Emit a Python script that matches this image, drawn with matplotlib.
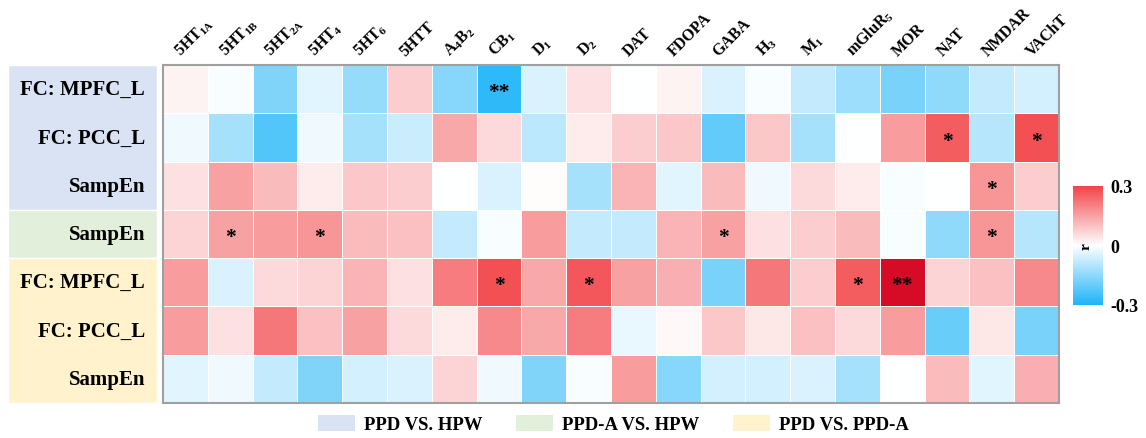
#!/usr/bin/env python3
"""Heatmap of receptor-map correlations (r) for FC / SampEn contrasts."""

import numpy as np
import matplotlib
matplotlib.use("Agg")
import matplotlib.pyplot as plt
from matplotlib.colors import LinearSegmentedColormap, Normalize
from matplotlib.patches import Patch

plt.rcParams["font.family"] = ["Liberation Serif", "DejaVu Serif"]
plt.rcParams["font.weight"] = "bold"
plt.rcParams["mathtext.fontset"] = "custom"
plt.rcParams["mathtext.rm"] = "Liberation Serif:bold"
plt.rcParams["mathtext.bf"] = "Liberation Serif:bold"
plt.rcParams["mathtext.default"] = "bf"

RECEPTORS = [
    "5HT$_{1A}$", "5HT$_{1B}$", "5HT$_{2A}$", "5HT$_{4}$", "5HT$_{6}$", "5HTT",
    "A$_{4}$B$_{2}$", "CB$_{1}$", "D$_{1}$", "D$_{2}$", "DAT", "FDOPA", "GABA",
    "H$_{3}$", "M$_{1}$", "mGluR$_{5}$", "MOR", "NAT", "NMDAR", "VAChT",
]

ROW_LABELS = ["FC: MPFC_L", "FC: PCC_L", "SampEn", "SampEn",
              "FC: MPFC_L", "FC: PCC_L", "SampEn"]

GROUP_NAMES = ["PPD VS. HPW", "PPD-A VS. HPW", "PPD VS. PPD-A"]
GROUP_SIZES = [3, 1, 3]
GROUP_COLORS = ["#dae3f3", "#e2efda", "#fff2cc"]

R_VALUES = np.array([
    [0.02, -0.01, -0.17, -0.04, -0.14, 0.08, -0.16, -0.28, -0.05, 0.05,
     0.00, 0.02, -0.05, -0.01, -0.08, -0.13, -0.18, -0.15, -0.08, -0.06],
    [-0.02, -0.12, -0.23, -0.02, -0.12, -0.07, 0.14, 0.06, -0.09, 0.03,
     0.08, 0.09, -0.21, 0.09, -0.12, 0.00, 0.16, 0.26, -0.10, 0.28],
    [0.05, 0.15, 0.11, 0.03, 0.09, 0.08, 0.00, -0.05, 0.005, -0.12,
     0.12, -0.04, 0.11, -0.02, 0.06, 0.03, -0.01, 0.00, 0.17, 0.08],
    [0.07, 0.15, 0.16, 0.17, 0.11, 0.10, -0.08, -0.01, 0.16, -0.08,
     -0.08, 0.12, 0.15, 0.05, 0.08, 0.11, -0.01, -0.15, 0.17, -0.10],
    [0.16, -0.05, 0.06, 0.07, 0.12, 0.05, 0.21, 0.28, 0.14, 0.27,
     0.15, 0.13, -0.18, 0.22, 0.08, 0.26, 0.40, 0.07, 0.10, 0.19],
    [0.16, 0.05, 0.22, 0.10, 0.15, 0.06, 0.03, 0.19, 0.14, 0.21,
     -0.03, 0.01, 0.09, 0.04, 0.10, 0.06, 0.16, -0.20, 0.04, -0.18],
    [-0.04, -0.02, -0.08, -0.17, -0.06, -0.05, 0.07, -0.02, -0.17, -0.01,
     0.16, -0.16, -0.06, -0.06, -0.05, -0.12, 0.00, 0.11, -0.04, 0.13],
])

# (row, column, mark)
SIGNIF = [
    (0, 7, "**"),
    (1, 17, "*"), (1, 19, "*"),
    (2, 18, "*"),
    (3, 1, "*"), (3, 3, "*"), (3, 12, "*"), (3, 18, "*"),
    (4, 7, "*"), (4, 9, "*"), (4, 15, "*"), (4, 16, "**"),
]

VMIN, VMAX = -0.3, 0.42
CMAP = LinearSegmentedColormap.from_list(
    "r_map",
    [(0.0, "#1fb4f7"), (0.3 / 0.72, "#ffffff"), (0.6 / 0.72, "#f24549"), (1.0, "#d0001f")],
)
NORM = Normalize(VMIN, VMAX)

W, H = 1146, 439


def fig_box(x0, y0, x1, y1):
    """Pixel box (top-left origin) -> figure fraction rect."""
    return [x0 / W, 1 - y1 / H, (x1 - x0) / W, (y1 - y0) / H]


def main():
    fig = plt.figure(figsize=(W / 100, H / 100), dpi=100)

    ax = fig.add_axes(fig_box(163, 66, 1059, 404))
    n_rows, n_cols = R_VALUES.shape
    ax.pcolormesh(R_VALUES, cmap=CMAP, norm=NORM, edgecolors="white", linewidth=0.6)
    ax.set_xlim(0, n_cols)
    ax.set_ylim(n_rows, 0)
    ax.set_xticks([])
    ax.set_yticks([])
    for sp in ax.spines.values():
        sp.set_color("#a0a0a0")
        sp.set_linewidth(1.5)

    for r, c, mark in SIGNIF:
        ax.text(c + 0.5, r + 0.5 + 0.17, mark, ha="center", va="baseline",
                fontsize=15.5, color="black")

    trans = ax.get_xaxis_transform()
    for i, lab in enumerate(RECEPTORS):
        ax.text(i + 0.4, 1.027, lab, transform=trans, rotation=45,
                rotation_mode="anchor", ha="left", va="baseline", fontsize=11.5)

    # row labels with group shading
    lax = fig.add_axes(fig_box(8, 66, 157, 404))
    lax.set_xlim(0, 1)
    lax.set_ylim(n_rows, 0)
    start = 0
    for size, color in zip(GROUP_SIZES, GROUP_COLORS):
        lax.barh(start + size / 2, 1, height=size, left=0, color=color,
                 edgecolor="white", linewidth=1)
        start += size
    for i, lab in enumerate(ROW_LABELS):
        lax.text(0.92, i + 0.5, lab, ha="right", va="center", fontsize=15)
    lax.axis("off")

    # colorbar (only -0.3 .. 0.3 shown)
    cax = fig.add_axes(fig_box(1073, 187, 1103, 306))
    grad = np.linspace(-0.3, 0.3, 256).reshape(-1, 1)
    cax.imshow(grad, cmap=CMAP, norm=NORM, aspect="auto", origin="lower",
               extent=[0, 1, -0.3, 0.3])
    cax.set_xticks([])
    cax.yaxis.tick_right()
    cax.set_yticks([-0.3, 0, 0.3])
    cax.set_yticklabels(["-0.3", "0", "0.3"], fontsize=13)
    cax.tick_params(axis="y", length=0, pad=5)
    for sp in cax.spines.values():
        sp.set_visible(False)
    cax.text(0.45, 0.0, "r", rotation=90, ha="center", va="center", fontsize=11)

    handles = [Patch(facecolor=c, edgecolor="none") for c in GROUP_COLORS]
    fig.legend(handles, GROUP_NAMES, loc="lower center", bbox_to_anchor=(0.535, -0.028),
               ncol=3, frameon=False, fontsize=13.5, handlelength=2.0,
               handleheight=0.9, handletextpad=0.45, columnspacing=1.8)

    fig.savefig("out.png", dpi=100)


if __name__ == "__main__":
    main()
